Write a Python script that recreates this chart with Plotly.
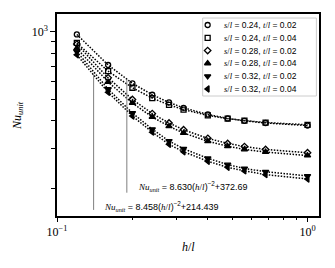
import plotly.graph_objects as go

# ---------------- data ----------------
h_l = [0.12, 0.16, 0.20, 0.24, 0.28, 0.32, 0.40, 0.48, 0.56, 0.68, 1.00]

nu_s024_t002 = [972, 710, 588, 523, 483, 457, 427, 410, 400, 391, 381]
nu_s024_t004 = [891, 666, 562, 505, 471, 449, 423, 409, 401, 393, 384]
nu_s028_t002 = [880, 622, 498, 431, 391, 365, 334, 317, 307, 298, 288]
nu_s028_t004 = [842, 596, 480, 416, 378, 353, 324, 308, 298, 290, 280]
nu_s032_t002 = [815, 554, 433, 367, 325, 300, 272, 255, 245, 237, 227]
nu_s032_t004 = [788, 536, 420, 356, 314, 291, 264, 248, 239, 230, 220]

series_values = [nu_s024_t002, nu_s024_t004, nu_s028_t002,
                 nu_s028_t004, nu_s032_t002, nu_s032_t004]
s_l = ["0.24", "0.24", "0.28", "0.28", "0.32", "0.32"]
t_l = ["0.02", "0.04", "0.02", "0.04", "0.02", "0.04"]
symbols = ["circle-open", "square-open", "diamond-open",
           "triangle-up", "triangle-down", "triangle-left"]

# fitted correlations  Nu = a (h/l)^-2 + b
fit_upper = (8.630, 372.69)
fit_lower = (8.458, 214.439)
pointer_upper = (0.19, 191)   # x where pointer touches curve, y of lower end
pointer_lower = (0.14, 160)

SERIF = "Liberation Serif"
SANS = "Liberation Sans"
LEG_FS = 8.5
EQ_FS = 9

fig = go.Figure()

def marker_style(sym):
    is_open = sym.endswith("open")
    return dict(symbol=sym, size=5 if is_open else 5.5, color="black",
                line=dict(color="black", width=1.3))

for vals, sym in zip(series_values, symbols):
    fig.add_trace(go.Scatter(
        x=h_l, y=vals, mode="lines+markers",
        line=dict(color="black", width=1.5, dash="1.5px,1.5px"),
        marker=marker_style(sym),
        showlegend=False, hoverinfo="skip"))

# pointer lines from equations to curves
for (a, b), (px, py) in [(fit_upper, pointer_upper), (fit_lower, pointer_lower)]:
    fig.add_trace(go.Scatter(
        x=[px, px], y=[a * px ** -2 + b, py], mode="lines",
        line=dict(color="#7f7f7f", width=1), showlegend=False, hoverinfo="skip"))

# custom legend markers on an overlay axis in paper-like coordinates
leg_x_marker = 0.575
leg_x_text = 0.629
leg_y0 = 0.9455
leg_dy = 0.0633
for i, sym in enumerate(symbols):
    fig.add_trace(go.Scatter(
        x=[leg_x_marker], y=[leg_y0 - i * leg_dy], mode="markers",
        xaxis="x2", yaxis="y2", marker=marker_style(sym),
        showlegend=False, hoverinfo="skip"))

def serif_span(inner, fs):
    return f'<span style="font-family:{SERIF};font-size:{fs}px">{inner}</span>'

annotations = []
for i in range(len(symbols)):
    txt = (f'{serif_span("<i>s</i>/<i>l</i>", LEG_FS)} = {s_l[i]}, '
           f'{serif_span("<i>t</i>/<i>l</i>", LEG_FS)} = {t_l[i]}')
    annotations.append(dict(
        x=leg_x_text, y=leg_y0 - i * leg_dy, xref="paper", yref="paper",
        xanchor="left", yanchor="middle", text=txt, showarrow=False,
        font=dict(family=SANS, size=LEG_FS, color="black")))

def eq_text(a, b, a_fmt, b_fmt):
    return (serif_span("<i>Nu</i><sub><i>unit</i></sub>", EQ_FS)
            + f' = {a:{a_fmt}}(' + serif_span("<i>h</i>/<i>l</i>", EQ_FS)
            + f')<sup>−2</sup>+{b:{b_fmt}}')

annotations.append(dict(
    x=0.303, y=0.1485, xref="paper", yref="paper", xanchor="left", yanchor="middle",
    text=eq_text(*fit_upper, ".3f", ".2f"), showarrow=False,
    font=dict(family=SANS, size=EQ_FS, color="black")))
annotations.append(dict(
    x=0.171, y=0.0495, xref="paper", yref="paper", xanchor="left", yanchor="middle",
    text=eq_text(*fit_lower, ".3f", ".3f"), showarrow=False,
    font=dict(family=SANS, size=EQ_FS, color="black")))

# axis titles
annotations.append(dict(
    x=-0.149, y=0.50, xref="paper", yref="paper", xanchor="center", yanchor="middle",
    text="<i>Nu</i><sub><i>unit</i></sub>", textangle=-90, showarrow=False,
    font=dict(family=SERIF, size=12, color="black")))
annotations.append(dict(
    x=0.50, y=-0.153, xref="paper", yref="paper", xanchor="center", yanchor="middle",
    text="<i>h</i>/<i>l</i>", showarrow=False,
    font=dict(family=SERIF, size=12, color="black")))

shapes = [dict(type="rect", xref="paper", yref="paper",
               x0=0.556, x1=0.990, y0=0.594, y1=0.980,
               line=dict(color="#cccccc", width=1), fillcolor="white",
               layer="below")]

fig.update_layout(
    width=335, height=268,
    margin=dict(l=57, r=15.5, t=14, b=52),
    paper_bgcolor="white", plot_bgcolor="white",
    showlegend=False,
    annotations=annotations, shapes=shapes,
    xaxis=dict(type="log", range=[-1, 0.0458],
               tickvals=[0.1, 1.0], ticktext=["10<sup>−1</sup>", "10<sup>0</sup>"],
               ticks="outside", ticklen=4, tickwidth=1, tickcolor="black",
               minor=dict(tickvals=[0.2, 0.3, 0.4, 0.5, 0.6, 0.7, 0.8, 0.9],
                          ticks="outside", ticklen=2.5, tickcolor="black", tickwidth=0.8),
               showline=True, mirror=True, linecolor="black", linewidth=1.5,
               showgrid=False, zeroline=False,
               tickfont=dict(family=SERIF, size=12, color="black")),
    yaxis=dict(type="log", range=[2.177, 3.079],
               tickvals=[1000], ticktext=["10<sup>3</sup>"],
               ticks="outside", ticklen=5, tickwidth=1, tickcolor="black",
               minor=dict(tickvals=[200, 300, 400, 500, 600, 700, 800, 900],
                          ticks="outside", ticklen=4, tickcolor="black", tickwidth=0.8),
               showline=True, mirror=True, linecolor="black", linewidth=1.5,
               showgrid=False, zeroline=False,
               tickfont=dict(family=SERIF, size=12, color="black")),
    xaxis2=dict(overlaying="x", anchor="y2", range=[0, 1], visible=False, fixedrange=True),
    yaxis2=dict(overlaying="y", anchor="x2", range=[0, 1], visible=False, fixedrange=True),
)

fig.write_html("out.html", config={"displayModeBar": False},
               post_script="document.body.style.margin='0';document.body.style.overflow='hidden';")
